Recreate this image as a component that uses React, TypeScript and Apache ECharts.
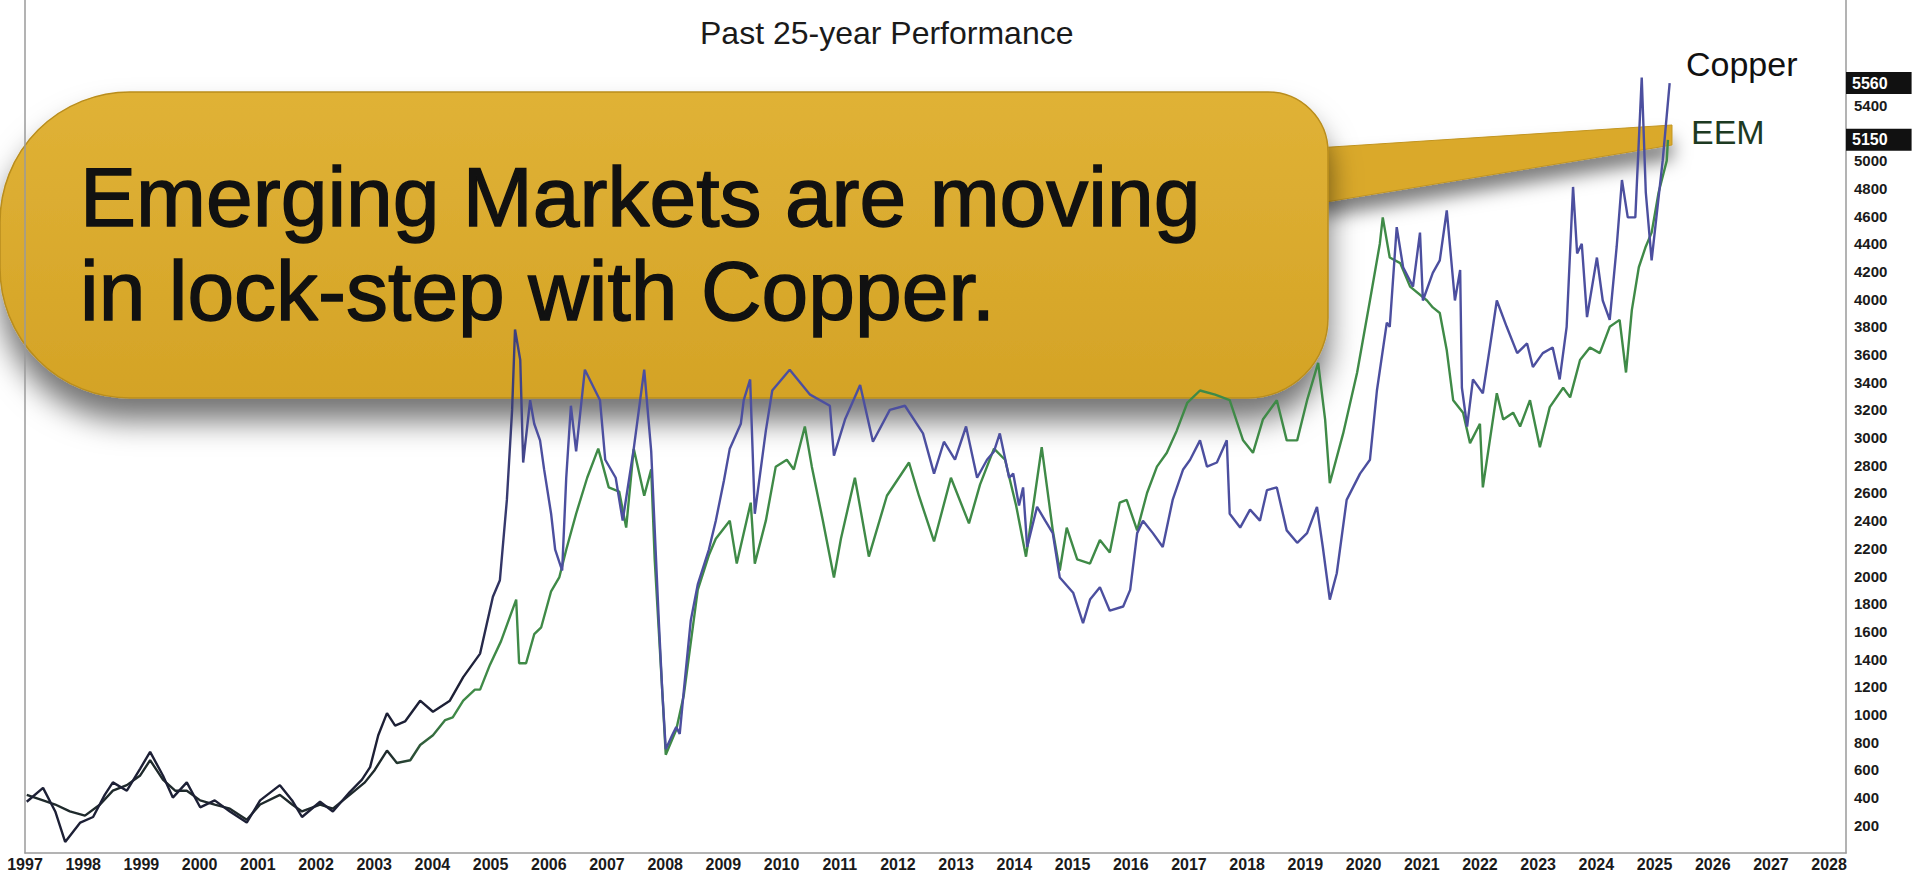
import React, { useEffect, useRef } from "react";
import * as echarts from "echarts";

const titleText = "Past 25-year Performance";
const calloutLines = ["Emerging Markets are moving", "in lock-step with Copper."];
const seriesNames = ["Copper", "EEM"];

const xMin = 1997;
const xMax = 2028.29;
const yMin = 0;
const yMax = 6160;
const yInterval = 200;
const yLabelMax = 5600;

const copper: [number, number][] = [
  [1997.03, 370], [1997.31, 470], [1997.52, 300], [1997.69, 80], [1997.95, 220], [1998.17, 260],
  [1998.37, 420], [1998.51, 510], [1998.75, 450], [1998.98, 610], [1999.15, 730], [1999.37, 560],
  [1999.54, 400], [1999.78, 510], [2000.01, 330], [2000.26, 380], [2000.52, 300], [2000.81, 220],
  [2001.04, 380], [2001.38, 490], [2001.59, 380], [2001.76, 260], [2002.07, 370], [2002.29, 300],
  [2002.58, 440], [2002.79, 530], [2002.93, 620], [2003.07, 850], [2003.22, 1010], [2003.36, 920],
  [2003.53, 950], [2003.79, 1100], [2004.01, 1020], [2004.3, 1100], [2004.53, 1270], [2004.82, 1440],
  [2005.04, 1850], [2005.16, 1970], [2005.28, 2550], [2005.37, 3200], [2005.42, 3780], [2005.51, 3560],
  [2005.56, 2820], [2005.68, 3270], [2005.75, 3100], [2005.85, 2980], [2005.92, 2770], [2006.04, 2450],
  [2006.11, 2190], [2006.23, 2040], [2006.3, 2710], [2006.38, 3230], [2006.47, 2900], [2006.62, 3490],
  [2006.88, 3270], [2006.97, 2840], [2007.15, 2710], [2007.27, 2400], [2007.46, 2920], [2007.57, 3270],
  [2007.64, 3490], [2007.76, 2900], [2007.89, 1680], [2007.95, 1170], [2008.01, 750], [2008.12, 850],
  [2008.19, 910], [2008.25, 860], [2008.32, 1170], [2008.44, 1680], [2008.56, 1940], [2008.75, 2190],
  [2008.87, 2400], [2009.01, 2690], [2009.11, 2920], [2009.3, 3100], [2009.35, 3270], [2009.46, 3420],
  [2009.54, 2450], [2009.73, 3050], [2009.84, 3340], [2010.14, 3490], [2010.49, 3310], [2010.83, 3230],
  [2010.9, 2870], [2011.09, 3130], [2011.35, 3380], [2011.57, 2970], [2011.86, 3200], [2012.12, 3230],
  [2012.43, 3030], [2012.62, 2740], [2012.79, 2970], [2012.98, 2840], [2013.17, 3080], [2013.36, 2710],
  [2013.53, 2840], [2013.65, 2900], [2013.75, 3030], [2013.91, 2710], [2013.98, 2740], [2014.08, 2510],
  [2014.15, 2640], [2014.22, 2210], [2014.39, 2500], [2014.53, 2400], [2014.66, 2310], [2014.78, 1990],
  [2015.01, 1880], [2015.18, 1660], [2015.3, 1830], [2015.47, 1920], [2015.64, 1750], [2015.87, 1780],
  [2015.99, 1900], [2016.11, 2310], [2016.21, 2400], [2016.38, 2310], [2016.55, 2210], [2016.72, 2550],
  [2016.9, 2770], [2017.02, 2840], [2017.19, 2980], [2017.31, 2790], [2017.48, 2820], [2017.65, 2980],
  [2017.7, 2450], [2017.88, 2350], [2018.05, 2480], [2018.22, 2400], [2018.34, 2620], [2018.51, 2640],
  [2018.68, 2330], [2018.86, 2240], [2019.03, 2310], [2019.2, 2500], [2019.3, 2210], [2019.42, 1830],
  [2019.54, 2020], [2019.71, 2550], [2019.94, 2740], [2020.11, 2840], [2020.23, 3340], [2020.4, 3830],
  [2020.45, 3800], [2020.57, 4520], [2020.68, 4230], [2020.85, 4090], [2020.97, 4480], [2021.02, 3990],
  [2021.19, 4190], [2021.31, 4280], [2021.43, 4640], [2021.57, 3990], [2021.66, 4210], [2021.69, 3360],
  [2021.78, 3080], [2021.88, 3420], [2022.05, 3320], [2022.17, 3650], [2022.29, 3990], [2022.46, 3800],
  [2022.64, 3610], [2022.81, 3680], [2022.91, 3510], [2023.08, 3610], [2023.25, 3650], [2023.37, 3420],
  [2023.49, 3800], [2023.6, 4810], [2023.67, 4330], [2023.75, 4400], [2023.84, 3870], [2024.01, 4300],
  [2024.11, 3990], [2024.23, 3850], [2024.35, 4380], [2024.44, 4860], [2024.54, 4590], [2024.67, 4590],
  [2024.78, 5600], [2024.85, 4770], [2024.95, 4280], [2025.14, 5000], [2025.26, 5560],
];

const eem: [number, number][] = [
  [1997.03, 420], [1997.31, 380], [1997.52, 350], [1997.77, 300], [1998.03, 270], [1998.29, 350],
  [1998.51, 450], [1998.75, 490], [1998.98, 560], [1999.15, 670], [1999.37, 530], [1999.58, 450],
  [1999.78, 450], [2000.01, 380], [2000.26, 350], [2000.52, 320], [2000.81, 240], [2001.04, 350],
  [2001.38, 420], [2001.59, 350], [2001.76, 300], [2002.07, 350], [2002.29, 320], [2002.58, 420],
  [2002.84, 510], [2003.01, 600], [2003.22, 740], [2003.39, 650], [2003.62, 670], [2003.79, 780],
  [2004.01, 850], [2004.22, 960], [2004.35, 980], [2004.53, 1100], [2004.73, 1180], [2004.82, 1180],
  [2004.99, 1360], [2005.18, 1530], [2005.44, 1830], [2005.49, 1370], [2005.61, 1370], [2005.75, 1580],
  [2005.87, 1630], [2006.04, 1890], [2006.18, 1990], [2006.3, 2190], [2006.47, 2450], [2006.66, 2710],
  [2006.85, 2920], [2007.03, 2640], [2007.21, 2610], [2007.33, 2350], [2007.46, 2920], [2007.64, 2580],
  [2007.76, 2770], [2007.82, 2120], [2007.95, 1170], [2008.01, 710], [2008.19, 890], [2008.32, 1140],
  [2008.56, 1900], [2008.75, 2150], [2008.87, 2270], [2009.11, 2400], [2009.23, 2090], [2009.47, 2530],
  [2009.54, 2090], [2009.73, 2400], [2009.9, 2790], [2010.09, 2840], [2010.21, 2770], [2010.4, 3080],
  [2010.52, 2790], [2010.71, 2400], [2010.9, 1990], [2011.02, 2270], [2011.26, 2710], [2011.5, 2140],
  [2011.81, 2580], [2012.19, 2820], [2012.36, 2580], [2012.62, 2250], [2012.91, 2710], [2013.22, 2380],
  [2013.41, 2660], [2013.65, 2920], [2013.84, 2840], [2014.03, 2510], [2014.2, 2140], [2014.47, 2930],
  [2014.66, 2330], [2014.78, 2040], [2014.9, 2350], [2015.08, 2120], [2015.3, 2090], [2015.47, 2260],
  [2015.64, 2170], [2015.81, 2530], [2015.93, 2550], [2016.11, 2330], [2016.28, 2600], [2016.45, 2790],
  [2016.62, 2890], [2016.79, 3050], [2016.97, 3250], [2017.19, 3340], [2017.45, 3310], [2017.7, 3270],
  [2017.93, 2980], [2018.1, 2890], [2018.27, 3130], [2018.51, 3270], [2018.68, 2980], [2018.86, 2980],
  [2019.03, 3270], [2019.22, 3540], [2019.34, 3130], [2019.42, 2670], [2019.65, 3030], [2019.89, 3470],
  [2020.11, 3990], [2020.28, 4400], [2020.33, 4590], [2020.45, 4300], [2020.63, 4260], [2020.8, 4090],
  [2021.09, 3990], [2021.19, 3940], [2021.31, 3900], [2021.43, 3630], [2021.54, 3270], [2021.71, 3180],
  [2021.83, 2960], [2022.0, 3100], [2022.05, 2640], [2022.17, 2980], [2022.29, 3320], [2022.4, 3130],
  [2022.57, 3180], [2022.69, 3080], [2022.86, 3270], [2023.03, 2930], [2023.2, 3220], [2023.43, 3360],
  [2023.55, 3290], [2023.72, 3560], [2023.89, 3650], [2024.06, 3610], [2024.23, 3800], [2024.4, 3850],
  [2024.51, 3470], [2024.61, 3920], [2024.73, 4230], [2024.85, 4380], [2024.95, 4480], [2025.07, 4770],
  [2025.21, 5000], [2025.23, 5150],
];

const FONT = "'Liberation Sans', Arial, Helvetica, sans-serif";

const lastCopper = copper[copper.length - 1][1];
const lastEem = eem[eem.length - 1][1];

function lineGradient(dark: string, main: string, split: number) {
  return new echarts.graphic.LinearGradient(0, 0, 1, 0, [
    { offset: 0, color: dark },
    { offset: split, color: dark },
    { offset: split + 0.04, color: main },
    { offset: 1, color: main },
  ]);
}

function endTag(last: number) {
  return {
    silent: true,
    symbol: ["none", "none"],
    lineStyle: { width: 0, color: "rgba(0,0,0,0)" },
    label: {
      show: true,
      position: "end",
      distance: 0,
      formatter: () => String(last),
      backgroundColor: "#111",
      color: "#fff",
      fontFamily: FONT,
      fontWeight: "bold",
      fontSize: 16,
      padding: [3, 24, 3, 6],
    },
    data: [{ yAxis: last }],
  };
}

function axisLabelText(v: number) {
  if (v === 0 || v > yLabelMax) return "";
  if (Math.abs(v - lastCopper) < 110 || Math.abs(v - lastEem) < 110) return "";
  return String(v);
}

export default function App() {
  const ref = useRef<HTMLDivElement>(null);

  useEffect(() => {
    if (!ref.current) return;
    const chart = echarts.init(ref.current, undefined, { renderer: "svg" });
    const gold = new echarts.graphic.LinearGradient(0, 0, 0, 1, [
      { offset: 0, color: "#E0B236" },
      { offset: 1, color: "#D4A326" },
    ]);
    chart.setOption({
      animation: false,
      backgroundColor: "#ffffff",
      title: {
        text: titleText,
        left: 695,
        top: 12,
        textStyle: { fontFamily: FONT, fontSize: 32, fontWeight: "normal", color: "#1a1a1a" },
      },
      grid: { left: 25, right: 74, top: 0, bottom: 25 },
      xAxis: {
        type: "value",
        min: xMin,
        max: xMax,
        interval: 1,
        axisLine: { show: true, lineStyle: { color: "#9a9a9a", width: 1.5 } },
        axisTick: { show: false },
        splitLine: { show: false },
        axisLabel: {
          formatter: (v: number) => String(v),
          color: "#1a1a1a",
          fontFamily: FONT,
          fontWeight: "bold",
          fontSize: 16,
          margin: 3,
        },
      },
      yAxis: [
        {
          type: "value",
          position: "right",
          min: yMin,
          max: yMax,
          interval: yInterval,
          axisLine: { show: true, lineStyle: { color: "#9a9a9a", width: 1.5 } },
          axisTick: { show: false },
          splitLine: { show: false },
          axisLabel: {
            formatter: axisLabelText,
            color: "#1a1a1a",
            fontFamily: FONT,
            fontWeight: "bold",
            fontSize: 15,
            margin: 8,
          },
        },
        {
          type: "value",
          position: "left",
          min: yMin,
          max: yMax,
          interval: yInterval,
          axisLine: { show: true, lineStyle: { color: "#9a9a9a", width: 1.5 } },
          axisTick: { show: false },
          splitLine: { show: false },
          axisLabel: { show: false },
        },
      ],
      series: [
        {
          name: seriesNames[0],
          type: "line",
          data: copper,
          showSymbol: false,
          yAxisIndex: 0,
          lineStyle: { width: 2.4, color: lineGradient("#1d2036", "#4c4f9f", 0.27) },
          itemStyle: { color: "#4c4f9f" },
          markLine: endTag(lastCopper),
          z: 3,
        },
        {
          name: seriesNames[1],
          type: "line",
          data: eem,
          showSymbol: false,
          yAxisIndex: 0,
          lineStyle: { width: 2.4, color: lineGradient("#1f2a2c", "#3f8a47", 0.22) },
          itemStyle: { color: "#3f8a47" },
          markLine: endTag(lastEem),
          z: 2,
        },
      ],
      graphic: [
        {
          type: "group",
          z: 100,
          children: [
            {
              type: "polygon",
              shape: { points: [[1285, 150], [1326, 202], [1672, 145], [1672, 125]] },
              style: {
                fill: "#DAA92C",
                stroke: "#C29520",
                lineWidth: 1,
                shadowBlur: 18,
                shadowOffsetY: 14,
                shadowColor: "rgba(0,0,0,0.5)",
              },
            },
            {
              type: "rect",
              shape: { x: 0, y: 92, width: 1328, height: 306, r: [130, 60, 80, 130] },
              style: {
                fill: gold,
                stroke: "#B98D1C",
                lineWidth: 1.5,
                shadowBlur: 30,
                shadowOffsetY: 22,
                shadowColor: "rgba(0,0,0,0.55)",
              },
            },
            {
              type: "text",
              style: {
                x: 80,
                y: 197,
                text: calloutLines[0],
                font: `84px ${FONT}`,
                fill: "#111",
                stroke: "#111",
                lineWidth: 1.4,
                verticalAlign: "middle",
              },
            },
            {
              type: "text",
              style: {
                x: 80,
                y: 291,
                text: calloutLines[1],
                font: `84px ${FONT}`,
                fill: "#111",
                stroke: "#111",
                lineWidth: 1.4,
                verticalAlign: "middle",
              },
            },
          ],
        },
        {
          type: "text",
          z: 101,
          style: {
            x: 1686,
            y: 64,
            text: seriesNames[0],
            font: `34px ${FONT}`,
            fill: "#111",
            verticalAlign: "middle",
          },
        },
        {
          type: "text",
          z: 101,
          style: {
            x: 1691,
            y: 132,
            text: seriesNames[1],
            font: `34px ${FONT}`,
            fill: "#1d3a22",
            verticalAlign: "middle",
          },
        },
      ],
    });
    return () => chart.dispose();
  }, []);

  return (
    <div
      ref={ref}
      style={{ position: "fixed", left: 0, top: 0, width: 1920, height: 878, background: "#fff" }}
    />
  );
}
